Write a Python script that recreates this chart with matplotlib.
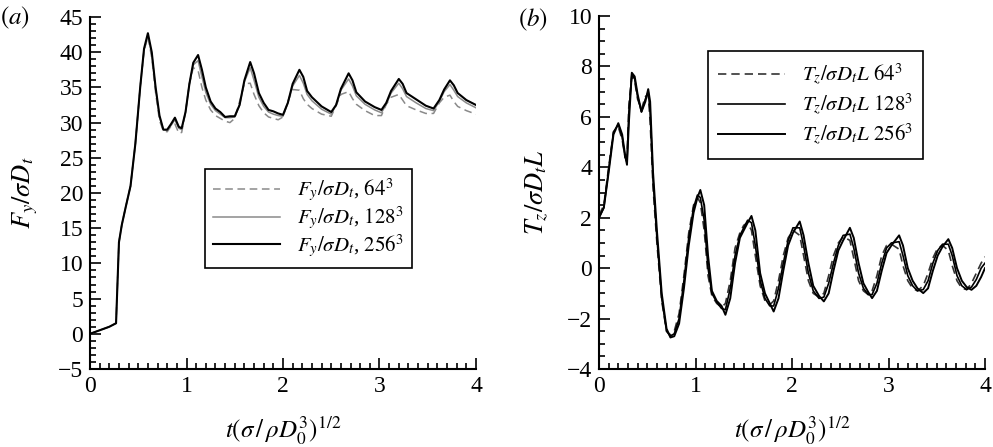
"""Fy and Tz time histories at three grid resolutions"""
import matplotlib
matplotlib.use("Agg")
import matplotlib.pyplot as plt
from matplotlib.ticker import MultipleLocator

plt.rcParams['font.family'] = ['Liberation Serif', 'DejaVu Serif']
plt.rcParams['mathtext.fontset'] = 'stix'

# panel (a): lift force
t_a = [0, 0.1, 0.2, 0.27, 0.3, 0.33, 0.37, 0.42, 0.47, 0.52, 0.56, 0.6, 0.64, 0.68,
       0.72, 0.76, 0.8, 0.84, 0.88, 0.92, 0.95, 0.99, 1.03, 1.07, 1.12, 1.16, 1.2,
       1.25, 1.3, 1.35, 1.4, 1.45, 1.5, 1.55, 1.6, 1.66, 1.7, 1.75, 1.8, 1.85, 1.9,
       1.95, 2.0, 2.05, 2.1, 2.17, 2.21, 2.25, 2.3, 2.4, 2.5, 2.55, 2.6, 2.68, 2.72,
       2.76, 2.85, 2.95, 3.02, 3.07, 3.12, 3.2, 3.24, 3.28, 3.38, 3.48, 3.56, 3.62,
       3.67, 3.73, 3.77, 3.81, 3.9, 4.0]
fy_64 = [0, 0.5, 1.0, 1.5, 13.0, 15.5, 18.0, 21.0, 27.0, 35.0, 40.2, 42.2, 39.2, 34.2,
         30.3, 28.8, 28.7, 29.5, 29.8, 28.5, 28.6, 31.5, 35.5, 37.8, 37.4, 35.0, 33.2,
         31.8, 31.0, 30.6, 30.2, 30.0, 30.6, 33.0, 35.5, 35.6, 34.0, 32.4, 31.4, 30.8, 30.6,
         30.4, 30.8, 33.0, 34.7, 34.6, 33.4, 32.6, 32.0, 31.2, 30.9, 32.4, 34.0, 34.4, 33.4,
         32.6, 31.7, 31.0, 31.0, 32.6, 33.6, 34.0, 33.2, 32.4, 31.8, 31.3, 31.3, 32.8,
         33.6, 33.9, 33.0, 32.3, 31.7, 31.2]
fy_128 = [0, 0.5, 1.0, 1.5, 13.0, 15.5, 18.0, 21.0, 27.0, 35.0, 40.3, 42.4, 39.7, 34.8,
          30.8, 29.0, 28.9, 29.6, 30.4, 29.2, 29.0, 31.5, 35.5, 38.2, 38.8, 36.5, 34.3,
          32.6, 31.7, 31.2, 30.7, 30.7, 30.8, 32.5, 35.8, 37.8, 36.0, 33.6, 32.3, 31.5, 31.2,
          31.0, 30.9, 32.8, 35.2, 36.7, 35.6, 34.0, 33.1, 31.9, 31.2, 32.5, 34.6, 36.2, 35.2,
          33.8, 32.6, 31.8, 31.4, 32.6, 34.2, 35.6, 34.8, 33.7, 32.8, 32.0, 31.7, 33.0,
          34.4, 35.4, 34.6, 33.7, 32.8, 32.1]
fy_256 = [0, 0.5, 1.0, 1.5, 13.0, 15.5, 18.0, 21.0, 27.0, 35.0, 40.5, 42.7, 40.0, 35.0,
          31.0, 29.0, 29.0, 29.8, 30.7, 29.4, 29.2, 31.5, 35.5, 38.5, 39.6, 37.5, 35.0,
          33.0, 32.0, 31.5, 30.8, 30.9, 30.9, 32.5, 36.0, 38.6, 37.0, 34.2, 32.8, 31.8, 31.6,
          31.3, 31.1, 32.8, 35.5, 37.5, 36.5, 34.5, 33.6, 32.3, 31.5, 32.5, 34.8, 37.0, 36.0,
          34.3, 33.0, 32.2, 31.8, 32.8, 34.5, 36.2, 35.5, 34.2, 33.3, 32.4, 32.0, 33.2,
          34.7, 36.0, 35.3, 34.2, 33.2, 32.5]

# panel (b): torque
t_b = [0, 0.05, 0.1, 0.15, 0.2, 0.24, 0.27, 0.29, 0.31, 0.34, 0.37, 0.4, 0.44, 0.48,
       0.51, 0.53, 0.56, 0.6, 0.65, 0.7, 0.74, 0.78, 0.83, 0.88, 0.93, 0.98, 1.02, 1.05,
       1.09, 1.13, 1.17, 1.22, 1.27, 1.31, 1.36, 1.41, 1.46, 1.5, 1.54, 1.58, 1.62, 1.67,
       1.72, 1.77, 1.81, 1.86, 1.91, 1.96, 2.01, 2.08, 2.12, 2.17, 2.22, 2.28, 2.33, 2.38,
       2.43, 2.48, 2.53, 2.6, 2.64, 2.69, 2.74, 2.79, 2.83, 2.88, 2.93, 2.98, 3.03, 3.11,
       3.15, 3.2, 3.25, 3.3, 3.36, 3.41, 3.46, 3.51, 3.56, 3.62, 3.66, 3.71, 3.76, 3.81,
       3.86, 3.91, 3.96, 4.0]
tz_64 = [2.1, 2.5, 4.0, 5.4, 5.6, 5.1, 4.4, 4.4, 6.5, 7.6, 7.4, 6.7, 6.3, 6.8,
         6.9, 5.8, 3.2, 1.0, -1.3, -2.5, -2.65, -2.5, -1.8, -0.3, 1.4, 2.5, 2.8, 2.6,
         1.5, -0.3, -1.1, -1.4, -1.55, -1.4, -0.5, 0.8, 1.4, 1.7, 1.8, 1.5, 0.5, -0.7,
         -1.3, -1.45, -1.3, -0.5, 0.5, 1.2, 1.5, 1.3, 0.5, -0.5, -1.0, -1.15, -1.0, -0.3,
         0.5, 1.0, 1.25, 1.1, 0.4, -0.5, -0.9, -1.05, -0.9, -0.3, 0.5, 0.9, 0.95, 0.75,
         0.1, -0.5, -0.8, -0.9, -0.7, -0.2, 0.4, 0.8, 0.9, 0.7, 0.1, -0.5, -0.8, -0.85,
         -0.6, -0.2, 0.2, 0.45]
tz_128 = [2.0, 2.4, 3.9, 5.4, 5.7, 5.2, 4.4, 4.2, 6.2, 7.7, 7.5, 6.8, 6.2, 6.7,
          7.0, 6.2, 3.5, 1.2, -1.2, -2.5, -2.7, -2.6, -2.0, -0.5, 1.2, 2.4, 2.9, 2.8,
          1.9, 0.0, -1.0, -1.35, -1.6, -1.65, -0.8, 0.5, 1.3, 1.6, 1.9, 1.8, 0.9, -0.5,
          -1.2, -1.5, -1.5, -0.8, 0.2, 1.1, 1.6, 1.6, 0.9, -0.2, -0.9, -1.2, -1.15, -0.6,
          0.2, 0.9, 1.3, 1.35, 0.8, -0.2, -0.8, -1.05, -1.05, -0.6, 0.2, 0.8, 1.0, 1.05,
          0.5, -0.3, -0.7, -0.9, -0.85, -0.5, 0.2, 0.7, 0.95, 0.95, 0.5, -0.3, -0.7, -0.85,
          -0.75, -0.45, 0.0, 0.2]
tz_256 = [2.0, 2.4, 3.8, 5.3, 5.75, 5.3, 4.5, 4.1, 5.8, 7.75, 7.6, 6.9, 6.2, 6.6,
          7.1, 6.6, 3.8, 1.5, -1.0, -2.4, -2.75, -2.7, -2.2, -0.8, 0.9, 2.2, 2.8, 3.1,
          2.5, 0.5, -0.9, -1.3, -1.5, -1.85, -1.2, 0.2, 1.2, 1.5, 1.8, 2.07, 1.5, -0.2,
          -1.0, -1.4, -1.72, -1.2, -0.1, 0.9, 1.4, 1.85, 1.3, 0.2, -0.7, -1.1, -1.32, -1.0,
          -0.1, 0.7, 1.1, 1.6, 1.2, 0.2, -0.6, -0.95, -1.19, -0.9, -0.1, 0.6, 0.9, 1.3,
          0.9, 0.0, -0.5, -0.8, -0.99, -0.8, -0.1, 0.5, 0.85, 1.15, 0.8, 0.0, -0.5, -0.75,
          -0.86, -0.7, -0.35, 0.0]


def style_axes(ax, ylim, ymajor, yminor):
    ax.set_xlim(0, 4)
    ax.set_ylim(*ylim)
    ax.xaxis.set_major_locator(MultipleLocator(1))
    ax.xaxis.set_minor_locator(MultipleLocator(0.1))
    ax.yaxis.set_major_locator(MultipleLocator(ymajor))
    ax.yaxis.set_minor_locator(MultipleLocator(yminor))
    ax.spines['top'].set_visible(False)
    ax.spines['right'].set_visible(False)
    for s in ('left', 'bottom'):
        ax.spines[s].set_linewidth(1.5)
    ax.tick_params(which='both', direction='in', labelsize=17, width=1.2)
    ax.tick_params(which='major', length=8, pad=5)
    ax.tick_params(which='minor', length=4)
    ax.set_xlabel(r'$t(\sigma\,/\,\rho D_0^3)^{1/2}$', fontsize=18, labelpad=12)


fig = plt.figure(figsize=(9.93, 4.47), dpi=100)
ax1 = fig.add_axes([90 / 993, 78 / 447, 386 / 993, 352 / 447])
ax2 = fig.add_axes([599 / 993, 78 / 447, 386 / 993, 353 / 447])

ax1.plot(t_a, fy_64, color='#8a8a8a', lw=1.1, ls=(0, (5, 3)), label=r'$F_y/\sigma D_t$, $64^3$')
ax1.plot(t_a, fy_128, color='#8a8a8a', lw=1.1, label=r'$F_y/\sigma D_t$, $128^3$')
ax1.plot(t_a, fy_256, color='black', lw=1.5, label=r'$F_y/\sigma D_t$, $256^3$')
style_axes(ax1, (-5, 45), 5, 1)
ax1.set_ylabel(r'$F_y/\sigma D_t$', fontsize=19, labelpad=13)
leg1 = ax1.legend(loc='lower left', bbox_to_anchor=(0.298, 0.287), borderaxespad=0,
                  fontsize=15, fancybox=False, edgecolor='black', framealpha=1,
                  handlelength=3.2, labelspacing=0.02, borderpad=0.4)
leg1.get_frame().set_linewidth(1.2)

ax2.plot(t_b, tz_64, color='#333333', lw=1.2, ls=(0, (5, 3)), label=r'$T_z/\sigma D_t L$ $64^3$')
ax2.plot(t_b, tz_128, color='black', lw=1.2, label=r'$T_z/\sigma D_t L$ $128^3$')
ax2.plot(t_b, tz_256, color='black', lw=1.4, label=r'$T_z/\sigma D_t L$ $256^3$')
style_axes(ax2, (-4, 10), 2, 0.5)
ax2.set_ylabel(r'$T_z/\sigma D_t L$', fontsize=19, labelpad=12)
leg2 = ax2.legend(loc='upper left', bbox_to_anchor=(0.282, 0.90), borderaxespad=0,
                  fontsize=15, fancybox=False, edgecolor='black', framealpha=1,
                  handlelength=3.2, labelspacing=0.2, borderpad=0.5)
leg2.get_frame().set_linewidth(1.2)

fig.text(0, 1 - 18 / 447, r'$(a)$', fontsize=18, va='center')
fig.text(518 / 993, 1 - 20 / 447, r'$(b)$', fontsize=18, va='center')

fig.savefig('out.png', dpi=100)
